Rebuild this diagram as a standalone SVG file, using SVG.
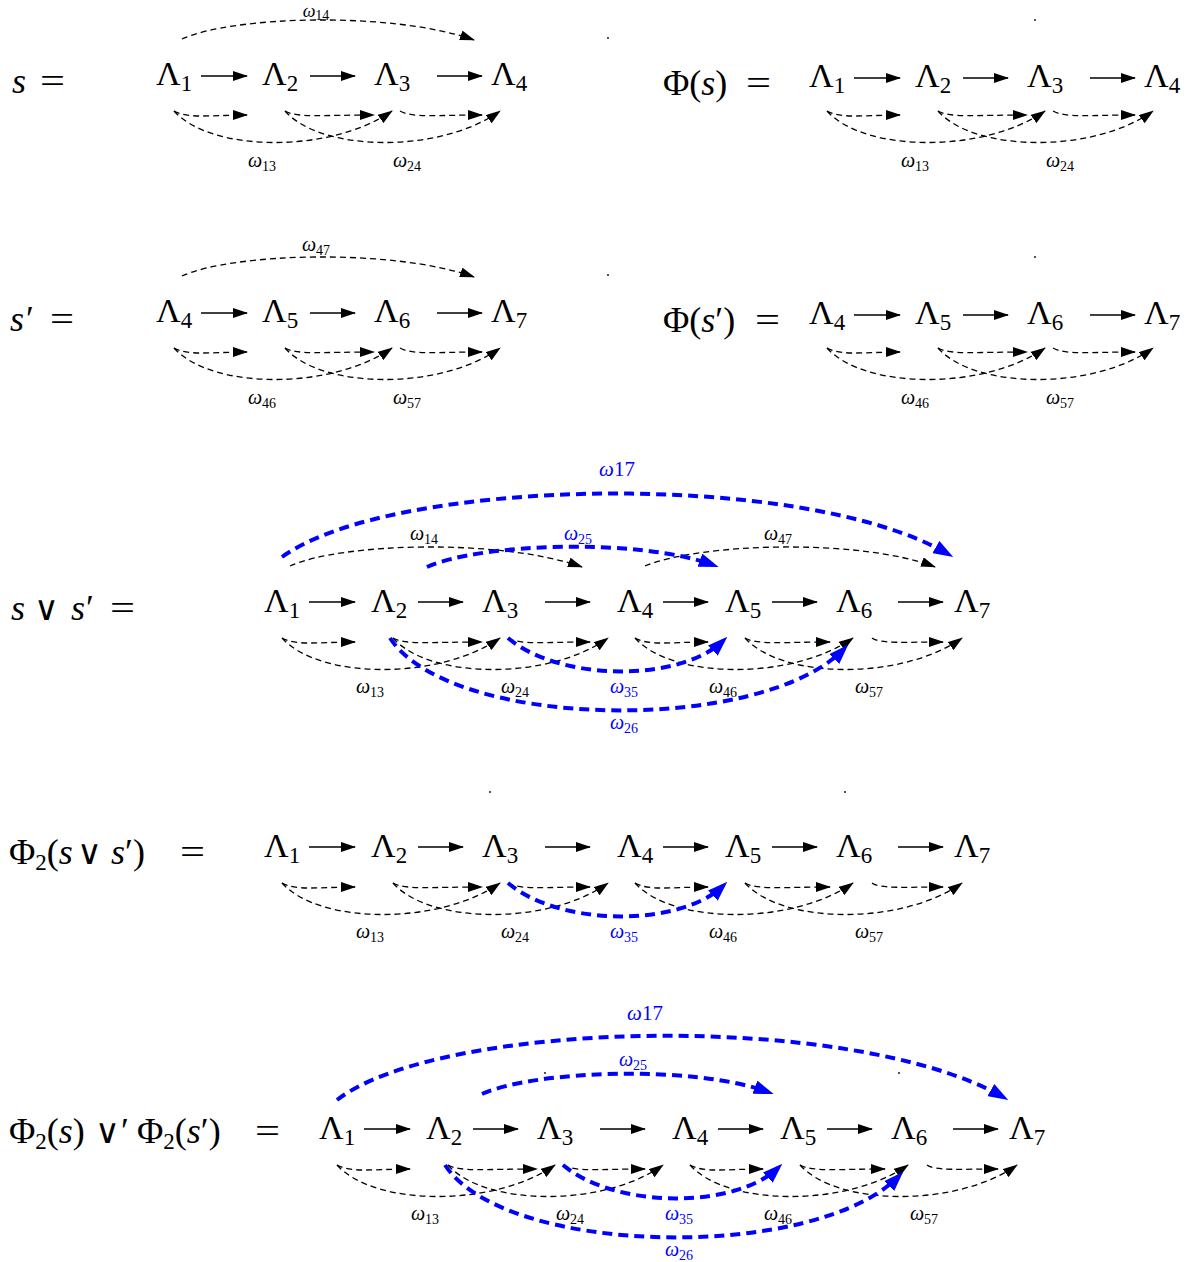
<svg xmlns="http://www.w3.org/2000/svg" width="1199" height="1262" viewBox="0 0 1199 1262">
<style>
.t{font-family:"Liberation Serif","Times New Roman",serif;font-size:34px;fill:#000}
.e{font-family:"Liberation Serif","Times New Roman",serif;font-size:36px;fill:#000}
.i{font-style:italic}
.n{font-style:normal}
.sub{font-size:23px;font-style:normal}
.sym{font-family:"DejaVu Sans",sans-serif;font-size:34px;font-style:normal}
.lab{font-family:"Liberation Serif","Times New Roman",serif;font-size:20px;font-style:italic;fill:#000}
.big{font-size:21px}
.ls{font-size:14px;font-style:normal}
.b{fill:#0000ff}
.arr{stroke:#000;stroke-width:1.3;fill:none;marker-end:url(#ah)}
.d{stroke:#000;stroke-width:1.3;stroke-dasharray:6 4;fill:none;marker-end:url(#ah)}
.bd{stroke:#0000ff;stroke-width:4;stroke-dasharray:10 6;fill:none;marker-end:url(#bh)}
</style>
<defs>
<marker id="ah" viewBox="0 0 15 10" refX="14" refY="5" markerWidth="15" markerHeight="10" markerUnits="userSpaceOnUse" orient="auto"><path d="M0,0 L15,5 L0,10 z" fill="#000"/></marker>
<marker id="bh" viewBox="0 0 20 14" refX="14" refY="7" markerWidth="20" markerHeight="14" markerUnits="userSpaceOnUse" orient="auto"><path d="M0,0 L20,7 L0,14 z" fill="#0000ff"/></marker>
<g id="b12"><path class="d" d="M282,638 C295,646 320,642 355,642"/></g>
<g id="b13"><path class="d" d="M282,638 C320,680 440,680 500,638"/></g>
<g id="b23"><path class="d" d="M393,638 C405,645 430,642 482,642"/></g>
<g id="b24"><path class="d" d="M393,638 C430,680 550,680 608,638"/></g>
<g id="b34"><path class="d" d="M508,638 C520,645 545,642 590,642"/></g>
<g id="b45"><path class="d" d="M635,638 C648,646 672,642 708,642"/></g>
<g id="b46"><path class="d" d="M635,638 C673,680 793,680 853,638"/></g>
<g id="b56"><path class="d" d="M745,638 C757,645 785,642 830,642"/></g>
<g id="b57"><path class="d" d="M745,638 C783,680 903,680 962,638"/></g>
<g id="b67"><path class="d" d="M872,638 C880,644 905,642 943,642"/></g>
<g id="t14"><path class="d" d="M290,566 C340,543 500,538 582,567"/></g>
<g id="w35"><path class="bd" d="M508,638 C560,682 680,682 723,641"/></g>
<g id="w26"><path class="bd" d="M390,638 C450,730 760,735 844,649"/></g>
<g id="w25"><path class="bd" d="M427,567 C480,543 640,538 713,565"/></g>
</defs>

<!-- equation labels -->
<g id="eq1"><text class="e i" x="12" y="93">s</text><text class="e" x="40" y="93" textLength="25" lengthAdjust="spacingAndGlyphs">=</text></g>
<g id="eq1r"><text class="e" x="663" y="95">Φ(<tspan class="i">s</tspan>)</text><text class="e" x="746" y="95" textLength="25" lengthAdjust="spacingAndGlyphs">=</text></g>
<g id="eq2"><text class="e i" x="10" y="331">s</text><text class="e" x="26" y="331">′</text><text class="e" x="50" y="331" textLength="24" lengthAdjust="spacingAndGlyphs">=</text></g>
<g id="eq2r"><text class="e" x="663" y="332">Φ(<tspan class="i">s</tspan>′)</text><text class="e" x="755" y="332" textLength="25" lengthAdjust="spacingAndGlyphs">=</text></g>
<g id="eq3"><text class="e i" x="11" y="620">s</text><text class="e sym" x="34" y="620">∨</text><text class="e i" x="71" y="620">s</text><text class="e" x="86" y="620">′</text><text class="e" x="110" y="620" textLength="25" lengthAdjust="spacingAndGlyphs">=</text></g>
<g id="eq4"><text class="e" x="9" y="864">Φ<tspan class="sub" dy="6">2</tspan><tspan dy="-6">(</tspan><tspan class="i">s</tspan></text><text class="e sym" x="77" y="864">∨</text><text class="e" x="111" y="864"><tspan class="i">s</tspan>′)</text><text class="e" x="180" y="864" textLength="25" lengthAdjust="spacingAndGlyphs">=</text></g>
<g id="eq5"><text class="e" x="9" y="1143">Φ<tspan class="sub" dy="6">2</tspan><tspan dy="-6">(</tspan><tspan class="i">s</tspan>)</text><text class="e sym" x="95" y="1143">∨</text><text class="e" x="121" y="1143">′</text><text class="e" x="137" y="1143">Φ<tspan class="sub" dy="6">2</tspan><tspan dy="-6">(</tspan><tspan class="i">s</tspan>′)</text><text class="e" x="255" y="1143" textLength="25" lengthAdjust="spacingAndGlyphs">=</text></g>

<!-- row 1 left nodes -->
<g id="r1-L1"><text class="t" x="156" y="85">Λ<tspan class="sub" dy="6">1</tspan></text></g>
<g id="r1-L2"><text class="t" x="262" y="85">Λ<tspan class="sub" dy="6">2</tspan></text></g>
<g id="r1-L3"><text class="t" x="374" y="85">Λ<tspan class="sub" dy="6">3</tspan></text></g>
<g id="r1-L4"><text class="t" x="491" y="85">Λ<tspan class="sub" dy="6">4</tspan></text></g>
<!-- row 1 right nodes -->
<g id="r1r-L1"><text class="t" x="809" y="87">Λ<tspan class="sub" dy="6">1</tspan></text></g>
<g id="r1r-L2"><text class="t" x="915" y="87">Λ<tspan class="sub" dy="6">2</tspan></text></g>
<g id="r1r-L3"><text class="t" x="1027" y="87">Λ<tspan class="sub" dy="6">3</tspan></text></g>
<g id="r1r-L4"><text class="t" x="1144" y="87">Λ<tspan class="sub" dy="6">4</tspan></text></g>
<!-- row 2 left -->
<g id="r2-L4"><text class="t" x="156" y="322">Λ<tspan class="sub" dy="6">4</tspan></text></g>
<g id="r2-L5"><text class="t" x="262" y="322">Λ<tspan class="sub" dy="6">5</tspan></text></g>
<g id="r2-L6"><text class="t" x="374" y="322">Λ<tspan class="sub" dy="6">6</tspan></text></g>
<g id="r2-L7"><text class="t" x="491" y="322">Λ<tspan class="sub" dy="6">7</tspan></text></g>
<!-- row 2 right -->
<g id="r2r-L4"><text class="t" x="809" y="324">Λ<tspan class="sub" dy="6">4</tspan></text></g>
<g id="r2r-L5"><text class="t" x="915" y="324">Λ<tspan class="sub" dy="6">5</tspan></text></g>
<g id="r2r-L6"><text class="t" x="1027" y="324">Λ<tspan class="sub" dy="6">6</tspan></text></g>
<g id="r2r-L7"><text class="t" x="1144" y="324">Λ<tspan class="sub" dy="6">7</tspan></text></g>
<!-- row 3 -->
<g id="r3-L1"><text class="t" x="264" y="612">Λ<tspan class="sub" dy="6">1</tspan></text></g>
<g id="r3-L2"><text class="t" x="371" y="612">Λ<tspan class="sub" dy="6">2</tspan></text></g>
<g id="r3-L3"><text class="t" x="482" y="612">Λ<tspan class="sub" dy="6">3</tspan></text></g>
<g id="r3-L4"><text class="t" x="617" y="612">Λ<tspan class="sub" dy="6">4</tspan></text></g>
<g id="r3-L5"><text class="t" x="725" y="612">Λ<tspan class="sub" dy="6">5</tspan></text></g>
<g id="r3-L6"><text class="t" x="836" y="612">Λ<tspan class="sub" dy="6">6</tspan></text></g>
<g id="r3-L7"><text class="t" x="954" y="612">Λ<tspan class="sub" dy="6">7</tspan></text></g>
<!-- row 4 -->
<g id="r4-L1"><text class="t" x="264" y="857">Λ<tspan class="sub" dy="6">1</tspan></text></g>
<g id="r4-L2"><text class="t" x="371" y="857">Λ<tspan class="sub" dy="6">2</tspan></text></g>
<g id="r4-L3"><text class="t" x="482" y="857">Λ<tspan class="sub" dy="6">3</tspan></text></g>
<g id="r4-L4"><text class="t" x="617" y="857">Λ<tspan class="sub" dy="6">4</tspan></text></g>
<g id="r4-L5"><text class="t" x="725" y="857">Λ<tspan class="sub" dy="6">5</tspan></text></g>
<g id="r4-L6"><text class="t" x="836" y="857">Λ<tspan class="sub" dy="6">6</tspan></text></g>
<g id="r4-L7"><text class="t" x="954" y="857">Λ<tspan class="sub" dy="6">7</tspan></text></g>
<!-- row 5 -->
<g id="r5-L1"><text class="t" x="319" y="1139">Λ<tspan class="sub" dy="6">1</tspan></text></g>
<g id="r5-L2"><text class="t" x="426" y="1139">Λ<tspan class="sub" dy="6">2</tspan></text></g>
<g id="r5-L3"><text class="t" x="537" y="1139">Λ<tspan class="sub" dy="6">3</tspan></text></g>
<g id="r5-L4"><text class="t" x="672" y="1139">Λ<tspan class="sub" dy="6">4</tspan></text></g>
<g id="r5-L5"><text class="t" x="780" y="1139">Λ<tspan class="sub" dy="6">5</tspan></text></g>
<g id="r5-L6"><text class="t" x="891" y="1139">Λ<tspan class="sub" dy="6">6</tspan></text></g>
<g id="r5-L7"><text class="t" x="1009" y="1139">Λ<tspan class="sub" dy="6">7</tspan></text></g>

<g id="connectors">
 <!-- row 1 left -->
 <g transform="translate(-108,-527)">
  <path class="arr" d="M309,603 H355"/><path class="arr" d="M418,603 H463"/><path class="arr" d="M545,603 H590"/>
  <use href="#t14"/><use href="#b12"/><use href="#b13"/><use href="#b23"/><use href="#b24"/><use href="#b34"/>
 </g>
 <!-- row 1 right -->
 <g transform="translate(545,-527)">
  <path class="arr" d="M309,605 H355"/><path class="arr" d="M418,605 H463"/><path class="arr" d="M545,605 H590"/>
  <use href="#b12"/><use href="#b13"/><use href="#b23"/><use href="#b24"/><use href="#b34"/>
 </g>
 <!-- row 2 left -->
 <g transform="translate(-108,-290)">
  <path class="arr" d="M309,603 H355"/><path class="arr" d="M418,603 H463"/><path class="arr" d="M545,603 H590"/>
  <use href="#t14"/><use href="#b12"/><use href="#b13"/><use href="#b23"/><use href="#b24"/><use href="#b34"/>
 </g>
 <!-- row 2 right -->
 <g transform="translate(545,-290)">
  <path class="arr" d="M309,605 H355"/><path class="arr" d="M418,605 H463"/><path class="arr" d="M545,605 H590"/>
  <use href="#b12"/><use href="#b13"/><use href="#b23"/><use href="#b24"/><use href="#b34"/>
 </g>
 <!-- row 3 -->
 <g>
  <path class="arr" d="M309,602 H355"/><path class="arr" d="M418,602 H463"/><path class="arr" d="M545,602 H590"/>
  <path class="arr" d="M663,602 H708"/><path class="arr" d="M772,602 H817"/><path class="arr" d="M898,602 H943"/>
  <use href="#t14"/><path class="d" d="M645,566 C700,543 860,538 935,567"/>
  <use href="#b12"/><use href="#b13"/><use href="#b23"/><use href="#b24"/><use href="#b34"/>
  <use href="#b45"/><use href="#b46"/><use href="#b56"/><use href="#b57"/><use href="#b67"/>
  <path class="bd" d="M282,557 C390,478 800,468 948,554"/>
  <use href="#w25"/><use href="#w35"/><use href="#w26"/>
 </g>
 <!-- row 4 -->
 <g transform="translate(0,245)">
  <path class="arr" d="M309,602 H355"/><path class="arr" d="M418,602 H463"/><path class="arr" d="M545,602 H590"/>
  <path class="arr" d="M663,602 H708"/><path class="arr" d="M772,602 H817"/><path class="arr" d="M898,602 H943"/>
  <use href="#b12"/><use href="#b13"/><use href="#b23"/><use href="#b24"/><use href="#b34"/>
  <use href="#b45"/><use href="#b46"/><use href="#b56"/><use href="#b57"/><use href="#b67"/>
  <use href="#w35"/>
 </g>
 <!-- row 5 -->
 <g transform="translate(55,527)">
  <path class="arr" d="M309,602 H355"/><path class="arr" d="M418,602 H463"/><path class="arr" d="M545,602 H590"/>
  <path class="arr" d="M663,602 H708"/><path class="arr" d="M772,602 H817"/><path class="arr" d="M898,602 H943"/>
  <use href="#b12"/><use href="#b13"/><use href="#b23"/><use href="#b24"/><use href="#b34"/>
  <use href="#b45"/><use href="#b46"/><use href="#b56"/><use href="#b57"/><use href="#b67"/>
  <path class="bd" d="M282,573 C385,493 795,483 948,570"/>
  <use href="#w25"/><use href="#w35"/><use href="#w26"/>
 </g>
</g>

<g id="labels">
 <text class="lab" x="316" y="17" text-anchor="middle" style="font-size:18px">ω<tspan class="ls" dy="3">14</tspan></text>
 <text class="lab" x="262" y="167" text-anchor="middle">ω<tspan class="ls" dy="4">13</tspan></text>
 <text class="lab" x="407" y="167" text-anchor="middle">ω<tspan class="ls" dy="4">24</tspan></text>
 <text class="lab" x="915" y="167" text-anchor="middle">ω<tspan class="ls" dy="4">13</tspan></text>
 <text class="lab" x="1060" y="167" text-anchor="middle">ω<tspan class="ls" dy="4">24</tspan></text>
 <text class="lab" x="316" y="251" text-anchor="middle">ω<tspan class="ls" dy="4">47</tspan></text>
 <text class="lab" x="262" y="404" text-anchor="middle">ω<tspan class="ls" dy="4">46</tspan></text>
 <text class="lab" x="407" y="404" text-anchor="middle">ω<tspan class="ls" dy="4">57</tspan></text>
 <text class="lab" x="915" y="404" text-anchor="middle">ω<tspan class="ls" dy="4">46</tspan></text>
 <text class="lab" x="1060" y="404" text-anchor="middle">ω<tspan class="ls" dy="4">57</tspan></text>
 <text class="lab big b" x="617" y="476" text-anchor="middle">ω<tspan class="n">17</tspan></text>
 <text class="lab" x="424" y="540" text-anchor="middle">ω<tspan class="ls" dy="4">14</tspan></text>
 <text class="lab b" x="578" y="540" text-anchor="middle">ω<tspan class="ls" dy="4">25</tspan></text>
 <text class="lab" x="778" y="540" text-anchor="middle">ω<tspan class="ls" dy="4">47</tspan></text>
 <text class="lab" x="370" y="693" text-anchor="middle">ω<tspan class="ls" dy="4">13</tspan></text>
 <text class="lab" x="515" y="693" text-anchor="middle">ω<tspan class="ls" dy="4">24</tspan></text>
 <text class="lab b" x="624" y="693" text-anchor="middle">ω<tspan class="ls" dy="4">35</tspan></text>
 <text class="lab" x="723" y="693" text-anchor="middle">ω<tspan class="ls" dy="4">46</tspan></text>
 <text class="lab" x="869" y="693" text-anchor="middle">ω<tspan class="ls" dy="4">57</tspan></text>
 <text class="lab b" x="624" y="729" text-anchor="middle">ω<tspan class="ls" dy="4">26</tspan></text>
 <text class="lab" x="370" y="938" text-anchor="middle">ω<tspan class="ls" dy="4">13</tspan></text>
 <text class="lab" x="515" y="938" text-anchor="middle">ω<tspan class="ls" dy="4">24</tspan></text>
 <text class="lab b" x="624" y="938" text-anchor="middle">ω<tspan class="ls" dy="4">35</tspan></text>
 <text class="lab" x="723" y="938" text-anchor="middle">ω<tspan class="ls" dy="4">46</tspan></text>
 <text class="lab" x="869" y="938" text-anchor="middle">ω<tspan class="ls" dy="4">57</tspan></text>
 <text class="lab big b" x="645" y="1020" text-anchor="middle">ω<tspan class="n">17</tspan></text>
 <text class="lab b" x="633" y="1066" text-anchor="middle">ω<tspan class="ls" dy="4">25</tspan></text>
 <text class="lab" x="425" y="1220" text-anchor="middle">ω<tspan class="ls" dy="4">13</tspan></text>
 <text class="lab" x="570" y="1220" text-anchor="middle">ω<tspan class="ls" dy="4">24</tspan></text>
 <text class="lab b" x="679" y="1220" text-anchor="middle">ω<tspan class="ls" dy="4">35</tspan></text>
 <text class="lab" x="778" y="1220" text-anchor="middle">ω<tspan class="ls" dy="4">46</tspan></text>
 <text class="lab" x="924" y="1220" text-anchor="middle">ω<tspan class="ls" dy="4">57</tspan></text>
 <text class="lab b" x="679" y="1256" text-anchor="middle">ω<tspan class="ls" dy="4">26</tspan></text>
</g>

<g id="dots" fill="#000">
 <circle cx="608" cy="38" r="0.9"/><circle cx="1035" cy="20" r="0.9"/>
 <circle cx="608" cy="275" r="0.9"/><circle cx="1035" cy="257" r="0.9"/>
 <circle cx="490" cy="792" r="0.9"/><circle cx="845" cy="792" r="0.9"/>
 <circle cx="545" cy="1073" r="0.9"/><circle cx="899" cy="1073" r="0.9"/>
</g>
</svg>
